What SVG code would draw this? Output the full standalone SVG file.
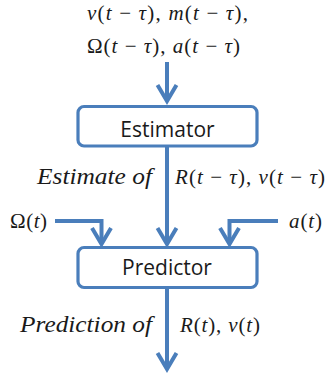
<svg xmlns="http://www.w3.org/2000/svg" width="330" height="376" viewBox="0 0 330 376">
<style>
.box{fill:#fff;stroke:#4a7ebb;stroke-width:3.2}
.ln{fill:none;stroke:#4a7ebb;stroke-width:4}
.lbl{font-family:"Open Sans",sans-serif;font-size:21px;fill:#1a1a1a;text-anchor:middle}
.m{font-family:"Liberation Serif",serif;font-size:21px;fill:#1a1a1a}
.i{font-style:italic}
.it{font-family:"Liberation Serif",serif;font-size:24px;font-style:italic;fill:#1a1a1a}
</style>
<defs>
<marker id="ah" markerUnits="userSpaceOnUse" markerWidth="30" markerHeight="30" viewBox="-20 -15 30 30" refX="0" refY="0" orient="auto">
<path d="M-16,-9.5 L0,0 L-16,9.5" fill="none" stroke="#4a7ebb" stroke-width="4" stroke-linejoin="miter"/>
</marker>
</defs>
<g id="connectors">
<line class="ln" x1="167" y1="62" x2="167" y2="101" marker-end="url(#ah)"/>
<line class="ln" x1="167" y1="146" x2="167" y2="244" marker-end="url(#ah)"/>
<polyline class="ln" points="55,221 101.5,221 101.5,244" marker-end="url(#ah)"/>
<polyline class="ln" points="278,221 229.5,221 229.5,244" marker-end="url(#ah)"/>
<line class="ln" x1="167" y1="288" x2="167" y2="369" marker-end="url(#ah)"/>
</g>
<g id="inputs">
<text class="m" x="87" y="20" textLength="161" lengthAdjust="spacing"><tspan class="i">v</tspan>(<tspan class="i">t</tspan> − <tspan class="i">τ</tspan>), <tspan class="i">m</tspan>(<tspan class="i">t</tspan> − <tspan class="i">τ</tspan>),</text>
<text class="m" x="87" y="53" textLength="153" lengthAdjust="spacing">Ω(<tspan class="i">t</tspan> − <tspan class="i">τ</tspan>), <tspan class="i">a</tspan>(<tspan class="i">t</tspan> − <tspan class="i">τ</tspan>)</text>
</g>
<g id="estimator">
<rect class="box" x="78" y="106.5" width="179" height="39.5" rx="6"/>
<text class="lbl" x="167.5" y="137">Estimator</text>
</g>
<g id="estimate-label">
<text class="it" x="37" y="184" textLength="115" lengthAdjust="spacingAndGlyphs">Estimate of</text>
<text class="m" x="175" y="184" textLength="150" lengthAdjust="spacing"><tspan class="i">R</tspan>(<tspan class="i">t</tspan> − <tspan class="i">τ</tspan>), <tspan class="i">v</tspan>(<tspan class="i">t</tspan> − <tspan class="i">τ</tspan>)</text>
</g>
<g id="omega-input">
<text class="m" x="10" y="228" textLength="37" lengthAdjust="spacing">Ω(<tspan class="i">t</tspan>)</text>
</g>
<g id="a-input">
<text class="m" x="289" y="228" textLength="33" lengthAdjust="spacing"><tspan class="i">a</tspan>(<tspan class="i">t</tspan>)</text>
</g>
<g id="predictor">
<rect class="box" x="78" y="247.5" width="179" height="40" rx="6"/>
<text class="lbl" x="167" y="275">Predictor</text>
</g>
<g id="prediction-label">
<text class="it" x="20" y="332" textLength="132" lengthAdjust="spacingAndGlyphs">Prediction of</text>
<text class="m" x="180" y="332" textLength="80" lengthAdjust="spacing"><tspan class="i">R</tspan>(<tspan class="i">t</tspan>), <tspan class="i">v</tspan>(<tspan class="i">t</tspan>)</text>
</g>
</svg>
